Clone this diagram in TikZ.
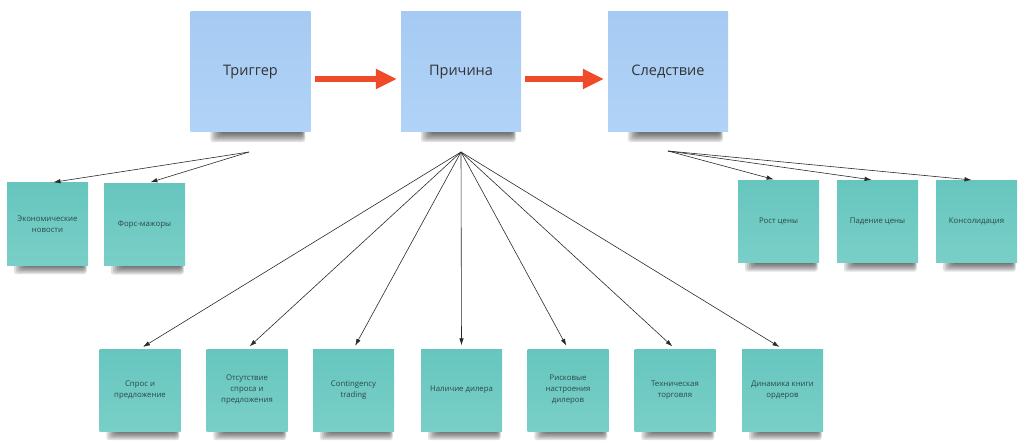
\documentclass[tikz,border=0pt]{standalone}
\usepackage{fontspec}
\setmainfont{Open Sans}
\usetikzlibrary{arrows.meta,backgrounds}
\definecolor{blueA}{HTML}{A6CAF3}
\definecolor{blueB}{HTML}{B1D3F7}
\definecolor{tealA}{HTML}{66C6BE}
\definecolor{tealB}{HTML}{79CFC8}
\definecolor{txtA}{HTML}{333333}
\definecolor{txtB}{HTML}{2C4846}
\definecolor{linkC}{HTML}{2A2A2A}
\definecolor{redC}{HTML}{EF4A2A}
% #1 node, #2 left inset, #3 right inset, #4 depth
\newcommand{\papershadow}[4]{%
  \foreach \k in {1,...,6}{%
    \fill[black,opacity=0.12,rounded corners=3pt]
      ([xshift={(#2-2*\k)*1pt},yshift=3pt]#1.south west) rectangle
      ([xshift={-(#3-0.6*\k)*1pt},yshift={-(#4*\k/6)*1pt}]#1.south east);
  }%
}
\begin{document}
\begin{tikzpicture}[x=1pt,y=-1pt,
  topbox/.style={minimum width=120pt,minimum height=120pt,inner sep=0pt,
    top color=blueA,bottom color=blueB,text=txtA,
    font=\fontsize{14.5}{17}\selectfont},
  leaf/.style={minimum width=81pt,minimum height=82pt,inner sep=0pt,
    top color=tealA,bottom color=tealB,text=txtB,align=center,
    font=\fontsize{7.8}{11}\selectfont},
  link/.style={draw=linkC,line width=0.6pt,-{Latex[length=7pt,width=4.5pt]},shorten >=3.5pt},
  bigarrow/.style={draw=redC,line width=6pt,-{Triangle[length=21pt,width=19pt]},shorten <=4pt,shorten >=4pt}
]
\useasboundingbox (0,0) rectangle (1024,446);

% top row
\node[topbox] (trig)  at (250.5,72) {\raisebox{1.5pt}{Триггер}};
\node[topbox] (cause) at (461,72)   {\raisebox{1.5pt}{Причина}};
\node[topbox] (eff)   at (668,72)   {\raisebox{1.5pt}{Следствие}};

% left group
\node[leaf] (econ)  at (47.5,224)  {Экономические\\новости};
\node[leaf] (force) at (144.5,224.5) {Форс-мажоры};

% right group
\node[leaf] (up)   at (778.5,221.5) {Рост цены};
\node[leaf] (down) at (877.5,221.5) {Падение цены};
\node[leaf] (cons) at (976.5,221.5) {Консолидация};

% bottom group
\node[leaf] (sd)   at (140,390)   {Спрос и\\предложение};
\node[leaf] (nosd) at (247,390)   {Отсутствие\\спроса и\\предложения};
\node[leaf] (cont) at (353.5,390) {Contingency\\trading};
\node[leaf] (deal) at (461.5,390) {Наличие дилера};
\node[leaf] (risk) at (568,390)   {Рисковые\\настроения\\дилеров};
\node[leaf] (tech) at (675,390)   {Техническая\\торговля};
\node[leaf] (book) at (782.5,390) {Динамика книги\\ордеров};

\begin{pgfonlayer}{background}
  \foreach \n in {trig,cause,eff}{\papershadow{\n}{32}{9}{10}}
  \foreach \n in {econ,force,up,down,cons,sd,nosd,cont,deal,risk,tech,book}{\papershadow{\n}{19}{5}{9}}
\end{pgfonlayer}

% red arrows
\draw[bigarrow] ([yshift=-7pt]trig.east) -- ([yshift=-7pt]cause.west);
\draw[bigarrow] ([yshift=-7pt]cause.east) -- ([yshift=-7pt]eff.west);

% junctions
\coordinate (tj) at (249,152);
\coordinate (cj) at (461,152);
\coordinate (ej) at (668,151);

\draw[link] (tj) -- ([xshift=2.5pt]econ.north);
\draw[link] (tj) -- ([xshift=2.5pt]force.north);

\draw[link] (ej) -- ([xshift=-1.5pt]up.north);
\draw[link] (ej) -- ([xshift=-2.5pt]down.north);
\draw[link] (ej) -- ([xshift=-1.5pt]cons.north);

\foreach \n in {sd,nosd,cont,deal,risk,tech,book}{\draw[link] (cj) -- (\n.north);}
\end{tikzpicture}
\end{document}
